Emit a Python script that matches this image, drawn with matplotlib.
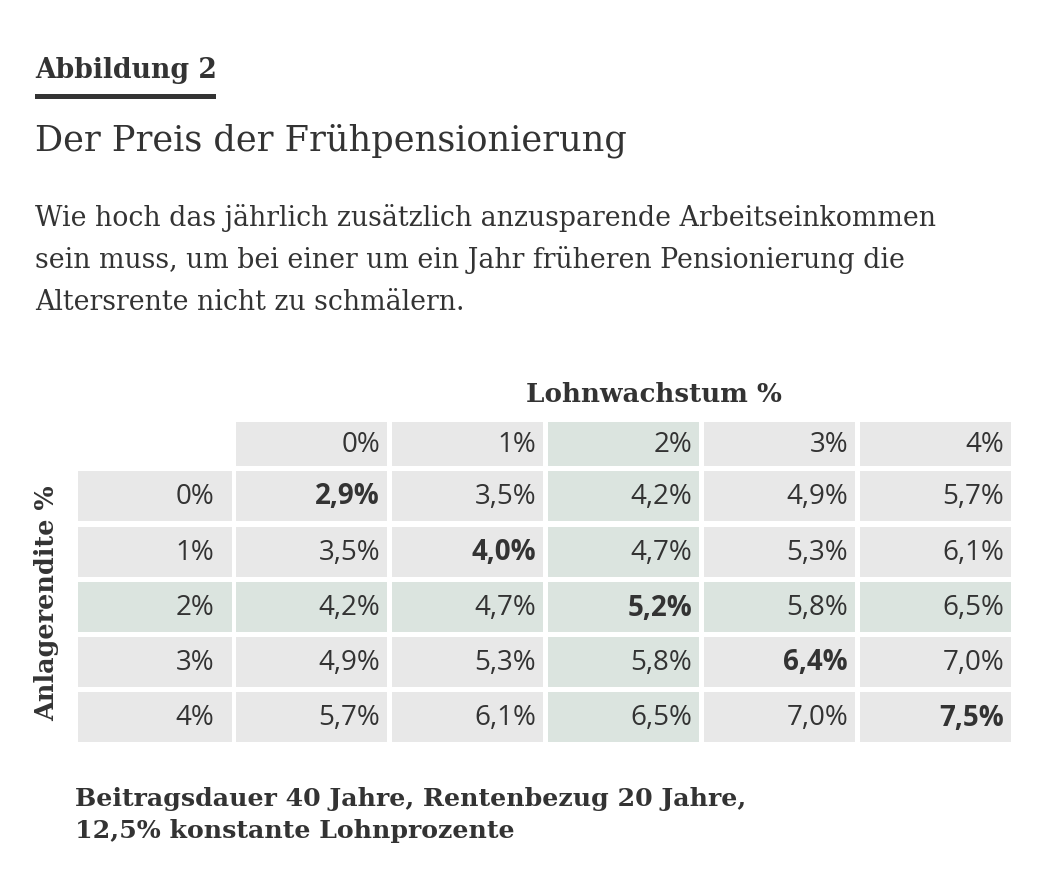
import matplotlib.pyplot as plt
from matplotlib.patches import Rectangle

# data
lohn_labels = ['0%', '1%', '2%', '3%', '4%']      # Lohnwachstum (columns)
rendite_labels = ['0%', '1%', '2%', '3%', '4%']   # Anlagerendite (rows)
werte = [
    [2.9, 3.5, 4.2, 4.9, 5.7],
    [3.5, 4.0, 4.7, 5.3, 6.1],
    [4.2, 4.7, 5.2, 5.8, 6.5],
    [4.9, 5.3, 5.8, 6.4, 7.0],
    [5.7, 6.1, 6.5, 7.0, 7.5],
]
highlight_col = 2
highlight_row = 2

GREY = '#e8e8e8'
GREEN = '#dbe4df'
INK = '#333333'
SERIF = 'DejaVu Serif'
SANS = 'Open Sans'

W, H = 1057, 890
fig = plt.figure(figsize=(W / 100, H / 100), dpi=100)
ax = fig.add_axes([0, 0, 1, 1])
ax.set_xlim(0, W)
ax.set_ylim(H, 0)
ax.axis('off')

# header texts
ax.text(35, 78, 'Abbildung 2', fontsize=19.2, fontweight='bold', family=SERIF,
        color=INK, va='baseline')
ax.add_patch(Rectangle((35, 94), 181, 5, color=INK, lw=0))
ax.text(35, 151, 'Der Preis der Frühpensionierung', fontsize=25.3, family=SERIF,
        color=INK, va='baseline')
sub = ['Wie hoch das jährlich zusätzlich anzusparende Arbeitseinkommen',
       'sein muss, um bei einer um ein Jahr früheren Pensionierung die',
       'Altersrente nicht zu schmälern.']
for i, line in enumerate(sub):
    ax.text(35, 226 + i * 42, line, fontsize=19.3, family=SERIF,
            color=INK, va='baseline')

# table geometry
col_x0 = [78] + [236 + 156 * j for j in range(5)]
col_w = [154] + [151] * 5
row_y0 = 471
row_pitch = 55
row_h = 50
head_y0, head_h = 422, 44

def cell_color(r, c):
    return GREEN if (r == highlight_row or c == highlight_col) else GREY

NUM_FS = 20

# column header row
for j, lab in enumerate(lohn_labels):
    x0 = col_x0[j + 1]
    ax.add_patch(Rectangle((x0, head_y0), col_w[j + 1], head_h,
                           color=GREEN if j == highlight_col else GREY, lw=0))
    ax.text(x0 + col_w[j + 1] - 7, head_y0 + head_h / 2 + 1, lab, fontsize=NUM_FS,
            family=SANS, color=INK, ha='right', va='center')

# data rows
for i, lab in enumerate(rendite_labels):
    y0 = row_y0 + i * row_pitch + (i > 0) * 1
    yc = y0 + row_h / 2 + 1
    ax.add_patch(Rectangle((col_x0[0], y0), col_w[0], row_h,
                           color=GREEN if i == highlight_row else GREY, lw=0))
    ax.text(col_x0[0] + col_w[0] - 18, yc, lab, fontsize=NUM_FS, family=SANS,
            color=INK, ha='right', va='center')
    for j, v in enumerate(werte[i]):
        x0 = col_x0[j + 1]
        ax.add_patch(Rectangle((x0, y0), col_w[j + 1], row_h,
                               color=cell_color(i, j), lw=0))
        txt = f'{v:.1f}%'.replace('.', ',')
        ax.text(x0 + col_w[j + 1] - 7, yc, txt, fontsize=NUM_FS, family=SANS,
                color=INK, ha='right', va='center',
                fontweight='bold' if i == j else 'normal')

ax.text(654, 402, 'Lohnwachstum %', fontsize=18.8, fontweight='bold',
        family=SERIF, color=INK, ha='center', va='baseline')
ax.text(47, 603, 'Anlagerendite %', fontsize=18.4, fontweight='bold',
        family=SERIF, color=INK, ha='center', va='center', rotation=90)

ax.text(75, 806, 'Beitragsdauer 40 Jahre, Rentenbezug 20 Jahre,', fontsize=18.2,
        fontweight='bold', family=SERIF, color=INK, va='baseline')
ax.text(75, 838, '12,5% konstante Lohnprozente', fontsize=18.2,
        fontweight='bold', family=SERIF, color=INK, va='baseline')

fig.savefig('out.png', dpi=100, facecolor='white')
